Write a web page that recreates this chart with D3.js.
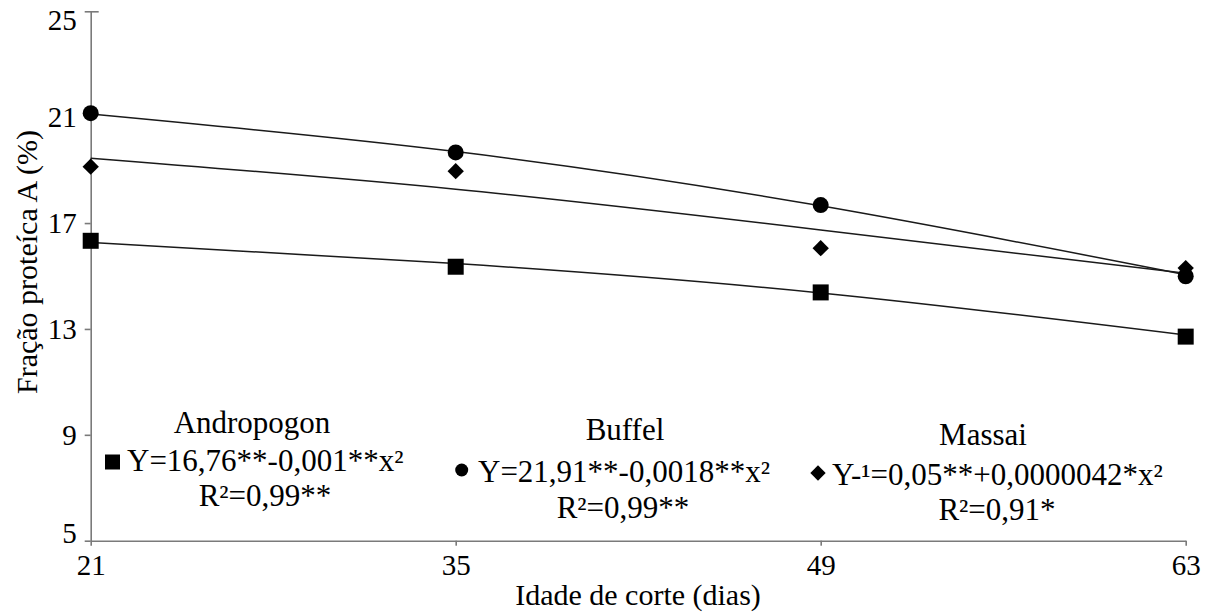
<!DOCTYPE html>
<html>
<head>
<meta charset="utf-8">
<script src="https://cdn.jsdelivr.net/npm/d3@7"></script>
<style>
  body { margin: 0; background: #fff; }
  svg text { font-family: "Liberation Serif", "Times New Roman", Times, serif; fill: #000; }
</style>
</head>
<body>
<script>
// Chart data
let days = [21, 35, 49, 63];
let yTicks = [5, 9, 13, 17, 21, 25];

// Observed values (%)
let andropogon = [16.33, 15.35, 14.38, 12.71];
let buffel = [21.15, 19.67, 17.68, 14.99];
let massai = [19.13, 18.96, 16.05, 15.30];

// Fitted curves, read at each cutting age
let andropogonFit = [16.27, 15.47, 14.36, 12.77];
let buffelFit = [21.12, 19.70, 17.65, 15.05];
let massaiFit = [19.45, 18.28, 16.74, 15.10];

// Legend texts
let seriesNames = ["Andropogon", "Buffel", "Massai"];
let equations = ["Y=16,76**-0,001**x²", "Y=21,91**-0,0018**x²", "Y-¹=0,05**+0,0000042*x²"];
let rSquared = ["R²=0,99**", "R²=0,99**", "R²=0,91*"];

let svgWidth = 1211;
let svgHeight = 614;
let serifFont = "'Liberation Serif', 'Times New Roman', Times, serif";

let svg = d3.select("body")
    .append("svg")
    .attr("width", svgWidth)
    .attr("height", svgHeight)
    .attr("font-family", serifFont);

// Scales
let xScale = d3.scaleLinear()
    .domain([21, 63])
    .range([90.7, 1185.7]);

let yScale = d3.scaleLinear()
    .domain([5, 25])
    .range([540.7, 11.3]);

// Axes
let axisColor = "#7a7a7a";

let xAxis = svg.append("g")
    .attr("transform", `translate(0, ${yScale(5)})`)
    .call(d3.axisBottom(xScale).tickValues(days).tickSize(5).tickSizeOuter(0).tickPadding(9));

let yAxis = svg.append("g")
    .attr("transform", `translate(${xScale(21)}, 0)`)
    .call(d3.axisLeft(yScale).tickValues(yTicks).tickSize(6).tickSizeOuter(0).tickPadding(8));

[xAxis, yAxis].forEach(function(ax) {
    ax.attr("font-family", serifFont).attr("font-size", 29);
    ax.select(".domain").attr("stroke", axisColor).attr("stroke-width", 1.6);
    ax.selectAll(".tick line").attr("stroke", axisColor).attr("stroke-width", 1.6);
    ax.selectAll(".tick text").attr("fill", "#000");
});

// first and last y labels sit inside the plot range
yAxis.selectAll(".tick text")
    .attr("dy", d => d === 25 ? "0.62em" : d === 5 ? "0.05em" : "0.32em");

// tick at 25 crosses the axis
yAxis.selectAll(".tick")
    .filter(d => d === 25)
    .select("line")
    .attr("x2", 8).attr("x1", -6);

// Axis titles
svg.append("text")
    .attr("x", 638)
    .attr("y", 605)
    .attr("text-anchor", "middle")
    .style("font-size", "30px")
    .text("Idade de corte (dias)");

svg.append("text")
    .attr("transform", "translate(37, 262) rotate(-90)")
    .attr("text-anchor", "middle")
    .style("font-size", "30px")
    .text("Fração proteíca A (%)");

// Fitted curves
let fitLine = d3.line()
    .x((d, i) => xScale(days[i]))
    .y(d => yScale(d))
    .curve(d3.curveNatural);

[buffelFit, massaiFit, andropogonFit].forEach(function(fit) {
    svg.append("path")
        .attr("d", fitLine(fit))
        .attr("fill", "none")
        .attr("stroke", "#1a1a1a")
        .attr("stroke-width", 1.5);
});

// Markers
let squareSym = d3.symbol().type(d3.symbolSquare).size(256);
let circleSym = d3.symbol().type(d3.symbolCircle).size(201);
let diamondSym = d3.symbol().type(d3.symbolDiamond2).size(170);

function drawPoints(values, sym) {
    svg.append("g")
        .selectAll("path")
        .data(values)
        .enter()
        .append("path")
        .attr("d", sym)
        .attr("transform", (d, i) => `translate(${xScale(days[i])}, ${yScale(d)})`)
        .attr("fill", "#000");
}

drawPoints(andropogon, squareSym);
drawPoints(buffel, circleSym);
drawPoints(massai, diamondSym);

// Legend blocks
let legendLayout = [
    { titleX: 252, titleY: 433, markX: 112.5, markY: 462, eqX: 127, eqY: 471, rX: 265, rY: 506, sym: d3.symbol().type(d3.symbolSquare).size(225) },
    { titleX: 625, titleY: 440, markX: 461.7, markY: 470, eqX: 478, eqY: 482, rX: 623, rY: 518, sym: d3.symbol().type(d3.symbolCircle).size(133) },
    { titleX: 983, titleY: 445, markX: 818, markY: 473, eqX: 832, eqY: 485, rX: 997, rY: 520, sym: d3.symbol().type(d3.symbolDiamond2).size(150) }
];

legendLayout.forEach(function(l, i) {
    let g = svg.append("g");
    g.append("text")
        .attr("x", l.titleX).attr("y", l.titleY)
        .attr("text-anchor", "middle")
        .style("font-size", "31px")
        .text(seriesNames[i]);
    g.append("path")
        .attr("d", l.sym)
        .attr("transform", `translate(${l.markX}, ${l.markY})`)
        .attr("fill", "#000");
    g.append("text")
        .attr("x", l.eqX).attr("y", l.eqY)
        .style("font-size", "31px")
        .text(equations[i]);
    g.append("text")
        .attr("x", l.rX).attr("y", l.rY)
        .attr("text-anchor", "middle")
        .style("font-size", "31px")
        .text(rSquared[i]);
});
</script>
</body>
</html>
